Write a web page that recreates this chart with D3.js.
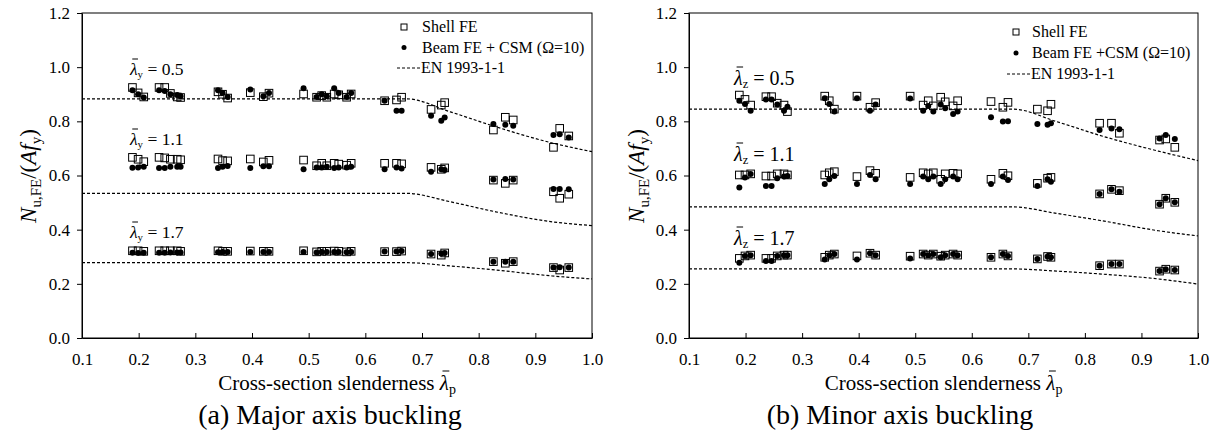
<!DOCTYPE html>
<html>
<head>
<meta charset="utf-8">
<script src="https://cdn.jsdelivr.net/npm/d3@7"></script>
<style>
  html, body { margin: 0; padding: 0; background: #fff; }
  svg { display: block; }
  svg text { font-family: "Liberation Serif", "Times New Roman", serif !important; }
</style>
</head>
<body>
<svg id="chart" width="1222" height="438"></svg>
<script>
// Cross-section slenderness of the modelled sections (shared by both panels)
const slenderness = [
  0.189, 0.199, 0.209,
  0.236, 0.246, 0.256, 0.268, 0.274,
  0.340, 0.348, 0.357,
  0.397, 0.420, 0.430,
  0.491, 0.514, 0.523, 0.532, 0.545, 0.553, 0.567, 0.575,
  0.634, 0.655, 0.664,
  0.716, 0.734, 0.740,
  0.826, 0.847, 0.861,
  0.932, 0.943, 0.959
];

// (a) Major axis buckling
const shellMajor05 = [0.925,0.905,0.890, 0.925,0.925,0.903,0.890,0.888, 0.909,0.900,0.886, 0.906,0.891,0.904,
  0.901,0.889,0.895,0.889,0.901,0.898,0.889,0.901, 0.876,0.879,0.889, 0.844,0.860,0.869, 0.768,0.815,0.805, 0.704,0.774,0.746];
const beamMajor05 = [0.915,0.900,0.888, 0.915,0.912,0.900,0.897,0.893, 0.915,0.905,0.890, 0.918,0.893,0.905,
  0.922,0.890,0.900,0.893,0.922,0.905,0.890,0.905, 0.876,0.839,0.839, 0.821,0.802,0.814, 0.790,0.787,0.784, 0.750,0.752,0.740];
const shellMajor11 = [0.667,0.660,0.651, 0.667,0.665,0.660,0.660,0.658, 0.661,0.655,0.654, 0.661,0.650,0.656,
  0.657,0.636,0.645,0.636,0.645,0.642,0.638,0.645, 0.645,0.645,0.643, 0.630,0.623,0.628, 0.583,0.571,0.583, 0.540,0.516,0.531];
const beamMajor11 = [0.629,0.630,0.632, 0.628,0.628,0.632,0.632,0.632, 0.628,0.632,0.635, 0.628,0.634,0.634,
  0.623,0.630,0.630,0.632,0.628,0.630,0.630,0.632, 0.623,0.630,0.626, 0.614,0.623,0.620, 0.585,0.587,0.585, 0.550,0.550,0.549];
const shellMajor17 = [0.322,0.322,0.320, 0.322,0.322,0.322,0.322,0.320, 0.322,0.320,0.320, 0.321,0.320,0.320,
  0.322,0.318,0.320,0.320,0.321,0.320,0.318,0.320, 0.319,0.319,0.321, 0.310,0.306,0.314, 0.282,0.276,0.282, 0.260,0.251,0.260];
const beamMajor17 = [0.315,0.314,0.315, 0.315,0.315,0.316,0.316,0.316, 0.317,0.318,0.318, 0.318,0.318,0.318,
  0.318,0.316,0.318,0.318,0.318,0.318,0.317,0.318, 0.319,0.319,0.321, 0.310,0.312,0.314, 0.282,0.282,0.282, 0.260,0.261,0.260];

// (b) Minor axis buckling
const shellMinor05 = [0.897,0.881,0.860, 0.891,0.891,0.867,0.860,0.836, 0.893,0.876,0.845, 0.893,0.852,0.869,
  0.893,0.860,0.876,0.857,0.889,0.872,0.857,0.876, 0.873,0.852,0.870, 0.845,0.839,0.863, 0.793,0.793,0.756, 0.731,0.735,0.704];
const beamMinor05 = [0.876,0.864,0.839, 0.881,0.881,0.862,0.839,0.854, 0.885,0.864,0.836, 0.885,0.839,0.862,
  0.884,0.839,0.857,0.836,0.862,0.848,0.827,0.836, 0.815,0.799,0.800, 0.790,0.787,0.793, 0.768,0.774,0.771, 0.737,0.750,0.735];
const shellMinor11 = [0.602,0.602,0.606, 0.598,0.598,0.606,0.606,0.602, 0.602,0.610,0.614, 0.596,0.618,0.608,
  0.593,0.610,0.606,0.610,0.586,0.606,0.608,0.606, 0.586,0.608,0.599, 0.571,0.590,0.593, 0.532,0.549,0.544, 0.494,0.516,0.501];
const beamMinor11 = [0.556,0.593,0.606, 0.561,0.561,0.590,0.596,0.598, 0.569,0.586,0.598, 0.569,0.602,0.586,
  0.569,0.596,0.586,0.596,0.569,0.586,0.596,0.586, 0.569,0.596,0.583, 0.561,0.586,0.577, 0.532,0.549,0.540, 0.494,0.516,0.501];
const shellMinor17 = [0.294,0.303,0.306, 0.294,0.294,0.303,0.306,0.306, 0.298,0.306,0.310, 0.303,0.313,0.306,
  0.302,0.310,0.306,0.310,0.302,0.306,0.310,0.306, 0.298,0.310,0.303, 0.292,0.301,0.298, 0.267,0.273,0.273, 0.247,0.254,0.251];
const beamMinor17 = [0.278,0.303,0.306, 0.284,0.284,0.303,0.306,0.306, 0.290,0.306,0.310, 0.290,0.313,0.306,
  0.294,0.310,0.306,0.310,0.298,0.306,0.310,0.306, 0.298,0.310,0.303, 0.292,0.301,0.298, 0.267,0.273,0.273, 0.247,0.254,0.251];

// EN 1993-1-1 design curves
const enSlenderness = [0.1, 0.673, 0.75, 0.83, 0.93, 1.0];
const enMajor05 = [0.883, 0.883, 0.835, 0.780, 0.720, 0.688];
const enMajor11 = [0.534, 0.534, 0.503, 0.466, 0.429, 0.415];
const enMajor17 = [0.278, 0.278, 0.266, 0.251, 0.229, 0.218];
const enMinor05 = [0.845, 0.845, 0.799, 0.746, 0.690, 0.655];
const enMinor11 = [0.484, 0.484, 0.460, 0.433, 0.396, 0.377];
const enMinor17 = [0.255, 0.255, 0.247, 0.236, 0.218, 0.199];

const xTicks = [0.1, 0.2, 0.3, 0.4, 0.5, 0.6, 0.7, 0.8, 0.9, 1.0];
const yTicks = [0.0, 0.2, 0.4, 0.6, 0.8, 1.0, 1.2];

const SERIF = "Liberation Serif";
const svg = d3.select("#chart");
svg.append("rect").attr("width", 1222).attr("height", 438).attr("fill", "#fff");

function overbar(textNode, charIndex, dy) {
  const ext = textNode.getExtentOfChar(charIndex);
  const g = d3.select(textNode.parentNode);
  g.append("line")
    .attr("x1", ext.x + ext.width * 0.3).attr("x2", ext.x + ext.width * 1.05)
    .attr("y1", ext.y + dy).attr("y2", ext.y + dy)
    .attr("stroke", "#000").attr("stroke-width", 1);
}

function drawPanel(cfg) {
  const x = d3.scaleLinear().domain([0.1, 1.0]).range([cfg.left, cfg.right]);
  const y = d3.scaleLinear().domain([0, 1.2]).range([338, 13]);
  const g = svg.append("g");

  // frame
  g.append("rect")
    .attr("x", cfg.left).attr("y", 13)
    .attr("width", cfg.right - cfg.left).attr("height", 325)
    .attr("fill", "none").attr("stroke", "#000").attr("stroke-width", 1);

  // x axis (ticks inside)
  const xAxis = g.append("g").attr("transform", "translate(0,338)")
    .call(d3.axisBottom(x).tickValues(xTicks).tickSizeInner(-5).tickSizeOuter(0).tickPadding(15).tickFormat(d3.format(".1f")));
  xAxis.attr("font-family", SERIF);
  xAxis.select(".domain").attr("stroke", "#000");
  xAxis.selectAll("line").attr("stroke", "#000");
  xAxis.selectAll("text").attr("font-size", 17).attr("fill", "#000").attr("dy", "0.68em");

  // y axis (ticks outside)
  const yAxis = g.append("g").attr("transform", `translate(${cfg.left},0)`)
    .call(d3.axisLeft(y).tickValues(yTicks).tickSizeInner(5).tickSizeOuter(0).tickPadding(7).tickFormat(d3.format(".1f")));
  yAxis.attr("font-family", SERIF);
  yAxis.select(".domain").attr("stroke", "#000");
  yAxis.selectAll("line").attr("stroke", "#000");
  yAxis.selectAll("text").attr("font-size", 17).attr("fill", "#000");

  // EN 1993-1-1 curves
  const line = d3.line().x(d => x(d[0])).y(d => y(d[1])).curve(d3.curveMonotoneX);
  cfg.en.forEach(vals => {
    g.append("path")
      .datum(enSlenderness.map((s, i) => [s, vals[i]]))
      .attr("d", line)
      .attr("fill", "none").attr("stroke", "#000").attr("stroke-width", 1.2)
      .attr("stroke-dasharray", "3,2");
  });

  // Shell FE (open squares)
  cfg.shell.forEach(vals => {
    g.append("g").selectAll("rect").data(slenderness.map((s, i) => [s, vals[i]]))
      .join("rect")
      .attr("x", d => x(d[0]) - 3.8).attr("y", d => y(d[1]) - 3.8)
      .attr("width", 7.6).attr("height", 7.6)
      .attr("fill", "none").attr("stroke", "#000").attr("stroke-width", 1);
  });

  // Beam FE + CSM (filled dots)
  cfg.beam.forEach(vals => {
    g.append("g").selectAll("circle").data(slenderness.map((s, i) => [s, vals[i]]))
      .join("circle")
      .attr("cx", d => x(d[0])).attr("cy", d => y(d[1]))
      .attr("r", 3).attr("fill", "#000");
  });

  // group labels
  cfg.groups.forEach(gr => {
    const lg = g.append("g");
    const t = lg.append("text")
      .attr("x", cfg.labelX).attr("y", gr.baseline)
      .attr("font-size", cfg.labelSize).attr("fill", "#000");
    t.append("tspan").attr("font-style", "italic").text("λ");
    t.append("tspan").attr("font-size", cfg.labelSize * 0.62).attr("dy", 3).text(cfg.axisSub);
    t.append("tspan").attr("dy", -3).text(" = " + gr.value);
    overbar(t.node(), 0, 0);
  });

  // legend
  const L = cfg.legend;
  g.append("rect").attr("x", L.mx - 3).attr("y", L.y0 - 3).attr("width", 6).attr("height", 6)
    .attr("fill", "none").attr("stroke", "#000").attr("stroke-width", 1);
  g.append("circle").attr("cx", L.mx).attr("cy", L.y0 + L.gap).attr("r", 2.5).attr("fill", "#000");
  g.append("line").attr("x1", L.lx1).attr("x2", L.lx2)
    .attr("y1", L.y0 + 2 * L.gap).attr("y2", L.y0 + 2 * L.gap)
    .attr("stroke", "#000").attr("stroke-width", 1).attr("stroke-dasharray", "3,2");
  const legendTexts = ["Shell FE", cfg.beamLabel, "EN 1993-1-1"];
  legendTexts.forEach((s, i) => {
    g.append("text").attr("x", i === 2 ? L.lx2 + 1 : L.tx).attr("y", L.y0 + i * L.gap + 5)
      .attr("font-size", L.size).attr("fill", "#000").text(s);
  });

  // y title
  const yt = g.append("text")
    .attr("transform", `translate(${cfg.yTitleX},176) rotate(-90)`)
    .attr("text-anchor", "middle").attr("font-size", 23).attr("fill", "#000");
  yt.append("tspan").attr("font-style", "italic").text("N");
  yt.append("tspan").attr("font-size", 15).attr("dy", 5).text("u,FE");
  yt.append("tspan").attr("dy", -5).text("/(");
  yt.append("tspan").attr("font-style", "italic").text("Af");
  yt.append("tspan").attr("font-size", 15).attr("dy", 5).text("y");
  yt.append("tspan").attr("dy", -5).text(")");

  // x title
  const xc = (cfg.left + cfg.right) / 2;
  const xtg = g.append("g");
  const xt = xtg.append("text").attr("x", xc).attr("y", 390)
    .attr("text-anchor", "middle").attr("font-size", 21).attr("fill", "#000");
  xt.append("tspan").text("Cross-section slenderness ");
  xt.append("tspan").attr("font-style", "italic").text("λ");
  xt.append("tspan").attr("font-size", 14).attr("dy", 4).text("p");
  overbar(xt.node(), "Cross-section slenderness ".length, 0);

  // caption
  g.append("text").attr("x", cfg.captionX).attr("y", 424)
    .attr("text-anchor", "middle").attr("font-size", 28).attr("fill", "#000")
    .text(cfg.caption);
}

drawPanel({
  left: 82, right: 592,
  shell: [shellMajor05, shellMajor11, shellMajor17],
  beam: [beamMajor05, beamMajor11, beamMajor17],
  en: [enMajor05, enMajor11, enMajor17],
  axisSub: "y", labelX: 130, labelSize: 17.5,
  groups: [{ value: "0.5", baseline: 75 }, { value: "1.1", baseline: 145 }, { value: "1.7", baseline: 238 }],
  legend: { mx: 404, tx: 422, lx1: 397, lx2: 420, y0: 27, gap: 20.5, size: 16 },
  beamLabel: "Beam FE + CSM (Ω=10)",
  yTitleX: 36,
  caption: "(a) Major axis buckling", captionX: 330
});

drawPanel({
  left: 689, right: 1198,
  shell: [shellMinor05, shellMinor11, shellMinor17],
  beam: [beamMinor05, beamMinor11, beamMinor17],
  en: [enMinor05, enMinor11, enMinor17],
  axisSub: "z", labelX: 734, labelSize: 20,
  groups: [{ value: "0.5", baseline: 85 }, { value: "1.1", baseline: 161 }, { value: "1.7", baseline: 245 }],
  legend: { mx: 1016, tx: 1032, lx1: 1007, lx2: 1030, y0: 32, gap: 21, size: 16 },
  beamLabel: "Beam FE +CSM (Ω=10)",
  yTitleX: 644,
  caption: "(b) Minor axis buckling", captionX: 900
});
</script>
</body>
</html>
